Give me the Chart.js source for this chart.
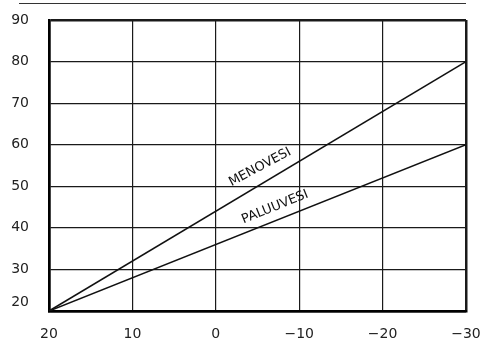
<!DOCTYPE html>
<html>
<head>
<meta charset="utf-8">
<script src="https://cdn.jsdelivr.net/npm/chart.js@4.4.1/dist/chart.umd.min.js"></script>
<style>
  html, body { margin: 0; padding: 0; background: #fff; }
  #wrap { width: 490px; height: 343px; }
</style>
</head>
<body>
<div id="wrap"><canvas id="tempChart"></canvas></div>
<script>
// outdoor temperature (x, reversed) vs water temperature (y)
const xTicks = [20, 10, 0, -10, -20, -30];
const yTicks = [20, 30, 40, 50, 60, 70, 80, 90];
const outdoorTemp = [20, -30];
const menoVesi = [20, 80];
const paluuVesi = [20, 60];
const lineLabels = ["MENOVESI", "PALUUVESI"];
// label anchor points in data units (x, y) and rotation in degrees
const labelAnchors = [[-5.3, 54.6, -28], [-7.1, 45.0, -22]];

const fmt = (v) => (v < 0 ? "\u2212" + Math.abs(v) : String(v));

const tickFont = { family: "DejaVu Sans", size: 14 };

// ---------- extra drawing: top rule + curve names ----------
const decorations = {
    id: "decorations",
    afterDatasetsDraw(chart) {
        const { ctx, chartArea, scales } = chart;
        ctx.save();
        ctx.strokeStyle = "#333";
        ctx.lineWidth = 1;
        ctx.beginPath();
        ctx.moveTo(19, 3.5);
        ctx.lineTo(chartArea.right, 3.5);
        ctx.stroke();

        ctx.fillStyle = "#111";
        ctx.font = "13px 'DejaVu Sans'";
        ctx.textAlign = "center";
        ctx.textBaseline = "middle";
        lineLabels.forEach((txt, i) => {
            const [dx, dy, rot] = labelAnchors[i];
            const px = scales.x.getPixelForValue(dx);
            const py = scales.y.getPixelForValue(dy);
            ctx.save();
            ctx.translate(px, py);
            ctx.rotate(rot * Math.PI / 180);
            ctx.fillText(txt, 0, 0);
            ctx.restore();
        });
        ctx.restore();
    }
};

const ctx1 = document.getElementById("tempChart").getContext("2d");

new Chart(ctx1, {
    type: "scatter",
    data: {
        datasets: [
            {
                label: lineLabels[0],
                data: outdoorTemp.map((x, i) => ({ x: x, y: menoVesi[i] })),
                showLine: true,
                borderColor: "#111",
                borderWidth: 1.6,
                pointRadius: 0
            },
            {
                label: lineLabels[1],
                data: outdoorTemp.map((x, i) => ({ x: x, y: paluuVesi[i] })),
                showLine: true,
                borderColor: "#111",
                borderWidth: 1.6,
                pointRadius: 0
            }
        ]
    },
    options: {
        responsive: true,
        maintainAspectRatio: false,
        animation: false,
        layout: {
            padding: { left: 0, right: 24, top: 20, bottom: 0 }
        },
        scales: {
            x: {
                type: "linear",
                reverse: true,
                min: xTicks[xTicks.length - 1],
                max: xTicks[0],
                afterBuildTicks: (scale) => {
                    scale.ticks = xTicks.map(v => ({ value: v }));
                },
                afterFit: (scale) => {
                    scale.height = 32;
                    scale.paddingLeft = 0;
                    scale.paddingRight = 0;
                },
                ticks: {
                    color: "#222",
                    font: tickFont,
                    padding: 15,
                    maxRotation: 0,
                    autoSkip: false,
                    callback: (value) => fmt(value)
                },
                grid: {
                    color: "#1a1a1a",
                    drawTicks: false,
                    lineWidth: (c) => (c.tick && (c.tick.value === 20 || c.tick.value === -30)) ? 2.5 : 1.2
                },
                border: { display: true, color: "#000", width: 2.5 }
            },
            y: {
                min: yTicks[0],
                max: yTicks[yTicks.length - 1],
                afterBuildTicks: (scale) => {
                    scale.ticks = yTicks.map(v => ({ value: v }));
                },
                afterFit: (scale) => {
                    scale.width = 49;
                    scale.paddingTop = 0;
                    scale.paddingBottom = 0;
                },
                ticks: {
                    color: "#222",
                    font: tickFont,
                    padding: 20,
                    autoSkip: false,
                    // lowest label sits a little above its grid line
                    callback: (value) => value === yTicks[0] ? [fmt(value), ""] : fmt(value)
                },
                grid: {
                    color: "#1a1a1a",
                    drawTicks: false,
                    lineWidth: (c) => (c.tick && (c.tick.value === 20 || c.tick.value === 90)) ? 2.5 : 1.2
                },
                border: { display: true, color: "#000", width: 2.5 }
            }
        },
        plugins: {
            legend: { display: false },
            tooltip: { enabled: false }
        }
    },
    plugins: [decorations]
});
</script>
</body>
</html>
